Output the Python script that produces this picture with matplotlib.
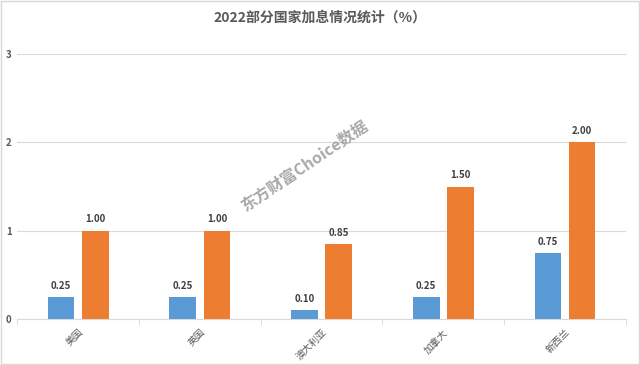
import matplotlib
matplotlib.use('Agg')
from matplotlib import pyplot as plt
import numpy as np

plt.rcParams['font.family'] = ['Noto Sans CJK SC', 'DejaVu Sans']

countries = ['美国', '英国', '澳大利亚', '加拿大', '新西兰']
series_a = [0.25, 0.25, 0.10, 0.25, 0.75]
series_b = [1.00, 1.00, 0.85, 1.50, 2.00]
yticks = [0, 1, 2, 3]

fig = plt.figure(figsize=(6.4, 3.65), dpi=100)
ax = fig.add_axes([0.027, 0.126, 0.951, 0.726])

x = np.arange(len(countries))
w = 0.22
b1 = ax.bar(x - 0.14, series_a, w, color='#5B9BD5', zorder=3)
b2 = ax.bar(x + 0.14, series_b, w, color='#ED7D31', zorder=3)
for bars in (b1, b2):
    for r in bars:
        ax.text(r.get_x() + r.get_width() / 2, r.get_height() + 0.07,
                '%.2f' % r.get_height(), ha='center', va='bottom',
                fontsize=7, fontweight='bold', color='#404040')

ax.set_xlim(-0.5, 4.5)
ax.set_ylim(0, 3)
ax.set_yticks(yticks)
ax.set_yticklabels([str(t) for t in yticks], fontsize=7, fontweight='bold', color='#595959')
ax.yaxis.grid(True, color='#D9D9D9', linewidth=0.8, zorder=0)
ax.tick_params(axis='y', length=0, pad=4)
ax.set_xticks(x)
ax.set_xticklabels(countries, rotation=45, ha='right', rotation_mode='anchor',
                   fontsize=7, color='#595959')
ax.set_xticks(np.arange(-0.5, 5, 1), minor=True)
ax.tick_params(axis='x', which='major', length=0, pad=6)
ax.tick_params(axis='x', which='minor', length=4, color='#D9D9D9')
for s in ['top', 'right', 'left']:
    ax.spines[s].set_visible(False)
ax.spines['bottom'].set_color('#D9D9D9')

fig.text(0.5, 0.953, '2022部分国家加息情况统计（%）', ha='center', va='center',
         fontsize=10, fontweight='bold', color='#595959')
fig.text(0.476, 0.545, '东方财富Choice数据', ha='center', va='center', rotation=34,
         fontsize=11.5, color='#A0A0A0', style='italic', fontweight='bold', alpha=0.9)

fig.patches.append(plt.Rectangle((0.002, 0.002), 0.996, 0.996, transform=fig.transFigure,
                                 fill=False, edgecolor='#D9D9D9', linewidth=1))

fig.savefig('out.png', dpi=100)
